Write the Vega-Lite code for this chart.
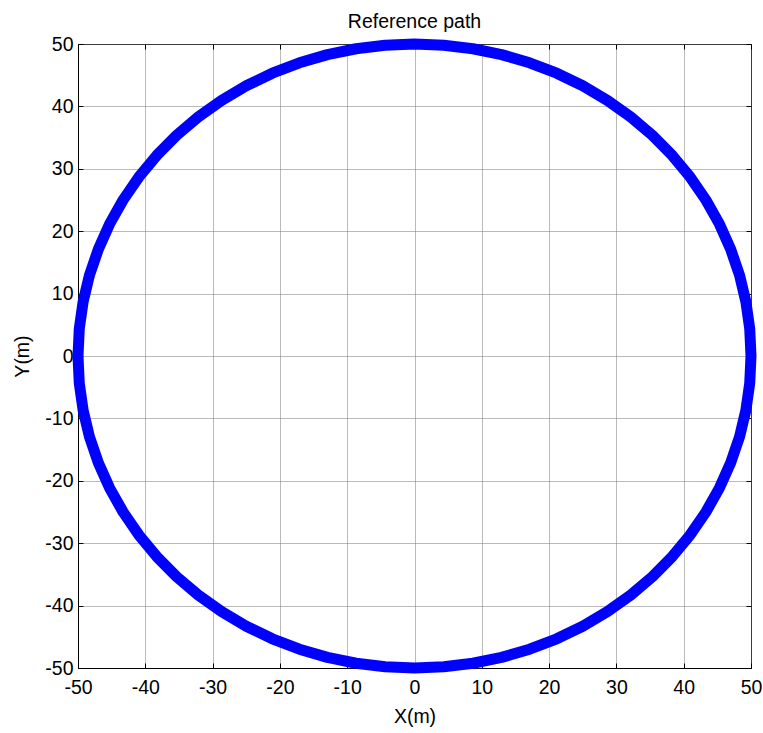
{
  "$schema": "https://vega.github.io/schema/vega-lite/v6.json",
  "width": 673,
  "height": 624,
  "autosize": {"type": "none"},
  "padding": {"left": 78, "top": 44, "right": 12, "bottom": 65},
  "background": "white",
  "title": {"text": "Reference path", "font": "Liberation Sans", "fontSize": 19.5, "fontWeight": "normal", "color": "#000", "offset": 2},
  "config": {
    "view": {"stroke": "#000", "strokeWidth": 1},
    "axis": {
      "labelFont": "Liberation Sans", "labelFontSize": 19.5, "labelColor": "#000", "labelFlush": false,
      "labelExpr": "replace(datum.label, '\u2212', '-')",
      "titleFont": "Liberation Sans", "titleFontSize": 19.5, "titleFontWeight": "normal", "titleColor": "#000",
      "domainColor": "#000", "tickColor": "#000", "tickSize": -5,
      "gridColor": "#777777", "gridDash": [1, 1], "gridWidth": 1
    }
  },
  "data": {"values": [
    {"i": 0, "x": 50, "y": 0},
    {"i": 1, "x": 49.81, "y": 4.36},
    {"i": 2, "x": 49.24, "y": 8.68},
    {"i": 3, "x": 48.30, "y": 12.94},
    {"i": 4, "x": 46.98, "y": 17.10},
    {"i": 5, "x": 45.32, "y": 21.13},
    {"i": 6, "x": 43.30, "y": 25.00},
    {"i": 7, "x": 40.96, "y": 28.68},
    {"i": 8, "x": 38.30, "y": 32.14},
    {"i": 9, "x": 35.36, "y": 35.36},
    {"i": 10, "x": 32.14, "y": 38.30},
    {"i": 11, "x": 28.68, "y": 40.96},
    {"i": 12, "x": 25.00, "y": 43.30},
    {"i": 13, "x": 21.13, "y": 45.32},
    {"i": 14, "x": 17.10, "y": 46.98},
    {"i": 15, "x": 12.94, "y": 48.30},
    {"i": 16, "x": 8.68, "y": 49.24},
    {"i": 17, "x": 4.36, "y": 49.81},
    {"i": 18, "x": 0, "y": 50},
    {"i": 19, "x": -4.36, "y": 49.81},
    {"i": 20, "x": -8.68, "y": 49.24},
    {"i": 21, "x": -12.94, "y": 48.30},
    {"i": 22, "x": -17.10, "y": 46.98},
    {"i": 23, "x": -21.13, "y": 45.32},
    {"i": 24, "x": -25.00, "y": 43.30},
    {"i": 25, "x": -28.68, "y": 40.96},
    {"i": 26, "x": -32.14, "y": 38.30},
    {"i": 27, "x": -35.36, "y": 35.36},
    {"i": 28, "x": -38.30, "y": 32.14},
    {"i": 29, "x": -40.96, "y": 28.68},
    {"i": 30, "x": -43.30, "y": 25.00},
    {"i": 31, "x": -45.32, "y": 21.13},
    {"i": 32, "x": -46.98, "y": 17.10},
    {"i": 33, "x": -48.30, "y": 12.94},
    {"i": 34, "x": -49.24, "y": 8.68},
    {"i": 35, "x": -49.81, "y": 4.36},
    {"i": 36, "x": -50, "y": 0},
    {"i": 37, "x": -49.81, "y": -4.36},
    {"i": 38, "x": -49.24, "y": -8.68},
    {"i": 39, "x": -48.30, "y": -12.94},
    {"i": 40, "x": -46.98, "y": -17.10},
    {"i": 41, "x": -45.32, "y": -21.13},
    {"i": 42, "x": -43.30, "y": -25.00},
    {"i": 43, "x": -40.96, "y": -28.68},
    {"i": 44, "x": -38.30, "y": -32.14},
    {"i": 45, "x": -35.36, "y": -35.36},
    {"i": 46, "x": -32.14, "y": -38.30},
    {"i": 47, "x": -28.68, "y": -40.96},
    {"i": 48, "x": -25.00, "y": -43.30},
    {"i": 49, "x": -21.13, "y": -45.32},
    {"i": 50, "x": -17.10, "y": -46.98},
    {"i": 51, "x": -12.94, "y": -48.30},
    {"i": 52, "x": -8.68, "y": -49.24},
    {"i": 53, "x": -4.36, "y": -49.81},
    {"i": 54, "x": 0, "y": -50},
    {"i": 55, "x": 4.36, "y": -49.81},
    {"i": 56, "x": 8.68, "y": -49.24},
    {"i": 57, "x": 12.94, "y": -48.30},
    {"i": 58, "x": 17.10, "y": -46.98},
    {"i": 59, "x": 21.13, "y": -45.32},
    {"i": 60, "x": 25.00, "y": -43.30},
    {"i": 61, "x": 28.68, "y": -40.96},
    {"i": 62, "x": 32.14, "y": -38.30},
    {"i": 63, "x": 35.36, "y": -35.36},
    {"i": 64, "x": 38.30, "y": -32.14},
    {"i": 65, "x": 40.96, "y": -28.68},
    {"i": 66, "x": 43.30, "y": -25.00},
    {"i": 67, "x": 45.32, "y": -21.13},
    {"i": 68, "x": 46.98, "y": -17.10},
    {"i": 69, "x": 48.30, "y": -12.94},
    {"i": 70, "x": 49.24, "y": -8.68},
    {"i": 71, "x": 49.81, "y": -4.36},
    {"i": 72, "x": 50, "y": 0}
  ]},
  "layer": [
    {
      "mark": {"type": "line", "color": "#0000ff", "strokeWidth": 11, "strokeJoin": "round", "strokeCap": "round", "clip": false},
      "encoding": {
        "x": {"field": "x", "type": "quantitative", "scale": {"domain": [-50, 50], "nice": false, "zero": false},
          "axis": {"values": [-50,-40,-30,-20,-10,0,10,20,30,40,50], "title": "X(m)", "labelPadding": 15, "titlePadding": 11, "grid": true}},
        "y": {"field": "y", "type": "quantitative", "scale": {"domain": [-50, 50], "nice": false, "zero": false},
          "axis": {"values": [-50,-40,-30,-20,-10,0,10,20,30,40,50], "title": "Y(m)", "labelPadding": 10, "titlePadding": 12, "grid": true}},
        "order": {"field": "i", "type": "quantitative"}
      }
    },
    {
      "mark": {"type": "point", "opacity": 0},
      "encoding": {
        "x": {"field": "x", "type": "quantitative",
          "axis": {"orient": "top", "values": [-50,-40,-30,-20,-10,0,10,20,30,40,50], "labels": false, "title": null, "grid": false, "domain": false}},
        "y": {"field": "y", "type": "quantitative",
          "axis": {"orient": "right", "values": [-50,-40,-30,-20,-10,0,10,20,30,40,50], "labels": false, "title": null, "grid": false, "domain": false}}
      }
    }
  ],
  "resolve": {"axis": {"x": "independent", "y": "independent"}}
}
